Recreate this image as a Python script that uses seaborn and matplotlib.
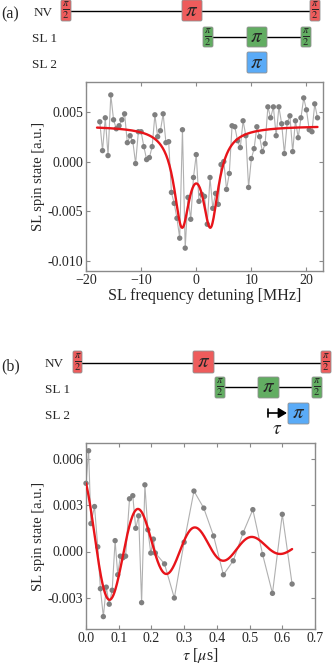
import matplotlib
matplotlib.use("Agg")
import matplotlib.pyplot as plt
from matplotlib.patches import FancyBboxPatch
import numpy as np
import pandas as pd
import seaborn as sns

# (a) SL frequency sweep, values in units of 1e-3
detuning = [-17.5, -17.0, -16.5, -16.0, -15.5, -15.0, -14.5, -14.0, -13.5, -13.0,
            -12.5, -12.0, -11.5, -11.0, -10.5, -10.0, -9.5, -9.0, -8.5, -8.0,
            -7.5, -7.0, -6.5, -6.0, -5.5, -5.0, -4.5, -4.0, -3.5, -3.0,
            -2.5, -2.0, -1.5, -1.0, -0.5, 0.0, 0.5, 1.0, 1.5, 2.0,
            2.5, 3.0, 3.5, 4.0, 4.5, 5.0, 5.5, 6.0, 6.5, 7.0,
            7.5, 8.0, 8.5, 9.0, 9.5, 10.0, 10.5, 11.0, 11.5, 12.0,
            12.5, 13.0, 13.5, 14.0, 14.5, 15.0, 15.5, 16.0, 16.5, 17.0,
            17.5, 18.0, 18.5, 19.0, 19.5, 20.0, 20.5, 21.0, 21.5, 22.0]
signal_a = [4.0, 1.1, 4.4, 0.6, 6.7, 4.2, 3.3, 3.6, 4.2, 4.8,
            1.9, 2.6, 2.0, -0.2, 3.0, 3.0, 1.5, 0.2, 0.4, 1.5,
            4.7, 2.5, 3.1, 4.8, 1.9, 2.0, -3.1, -4.2, -5.7, -7.7,
            3.2, -8.7, -3.6, -5.8, -1.6, 0.7, -4.0, -3.3, -3.5, -6.3,
            -1.6, -4.7, -3.2, -4.3, -0.3, 0.0, -2.8, -1.2, 3.6, 3.5,
            2.1, 1.4, 4.1, 2.6, -2.6, 0.3, 1.3, 3.5, 2.5, 1.0,
            1.8, 5.5, 4.4, 5.5, 2.6, 5.5, 3.8, 0.8, 3.9, 4.6,
            1.0, 4.1, 2.4, 4.4, 6.4, 5.2, 3.2, 3.0, 5.8, 4.4]
# double Lorentzian fit parameters (baseline, depth, split, width)
fit_a = dict(base=3.6, depth=9.3, split=2.6, width=1.75)

# (b) SL2 delay sweep, values in units of 1e-3
tau = [0.0, 0.008, 0.015, 0.026, 0.036, 0.044, 0.053, 0.062, 0.071, 0.080,
       0.089, 0.097, 0.105, 0.113, 0.121, 0.133, 0.143, 0.152, 0.161, 0.170,
       0.180, 0.189, 0.198, 0.206, 0.212, 0.24, 0.27, 0.30, 0.33, 0.36,
       0.39, 0.42, 0.45, 0.48, 0.51, 0.54, 0.57, 0.60, 0.63]
signal_b = [4.4, 6.5, 1.8, 2.9, 0.3, -2.4, -4.2, -2.3, -3.4, -2.5,
            0.7, -1.5, -0.3, -0.4, -0.3, 3.4, 3.6, 1.5, 2.3, -3.3,
            4.3, 1.4, -0.1, 0.8, -0.1, -0.8, -3.0, 0.6, 3.9, 2.8,
            1.0, -1.5, -0.6, 1.2, 2.7, -0.2, -2.7, 2.4, -2.1]
# damped cosine fit parameters
fit_b = dict(offset=0.3, amp=4.53, freq=5.75, decay=0.26, phase=0.44)

sns.set_style("ticks")
plt.rcParams["font.family"] = ["Liberation Serif", "DejaVu Serif"]
plt.rcParams["mathtext.fontset"] = "stix"
plt.rcParams["axes.unicode_minus"] = True

RED = "#ee5c5c"
GREEN = "#62ad62"
BLUE = "#5aabf7"
DOT = "#7f7f7f"
LINE = "#b0b0b0"
FIT = "#e8141a"
SPINE = "#8a8a8a"

fig = plt.figure(figsize=(3.32, 6.70), dpi=100)
ax_a = fig.add_axes([86 / 332, 1 - 271 / 670, 237 / 332, 189 / 670])
ax_b = fig.add_axes([86 / 332, 1 - 629 / 670, 229 / 332, 186 / 670])


def style_axes(ax):
    for s in ax.spines.values():
        s.set_color(SPINE)
        s.set_linewidth(1.0)
    ax.tick_params(direction="in", length=3, width=0.8, color=SPINE,
                   top=True, right=True, labelsize=10, pad=2)


# panel (a)
df_a = pd.DataFrame({"x": detuning, "y": np.array(signal_a) * 1e-3})
xf = np.linspace(-18, 22, 400)
lor = lambda d: 1 / (1 + (d / fit_a["width"]) ** 2)
yf = (fit_a["base"] - fit_a["depth"] * (lor(xf - fit_a["split"]) + lor(xf + fit_a["split"]))) * 1e-3
sns.lineplot(data=df_a, x="x", y="y", ax=ax_a, color=LINE, lw=0.8, sort=False)
sns.scatterplot(data=df_a, x="x", y="y", ax=ax_a, color=DOT, s=15, edgecolor="none", zorder=3)
sns.lineplot(x=xf, y=yf, ax=ax_a, color=FIT, lw=1.7, zorder=4)
ax_a.set_xlim(-20, 23)
ax_a.set_ylim(-0.011, 0.008)
ax_a.set_xticks([-20, -10, 0, 10, 20])
ax_a.set_yticks([-0.010, -0.005, 0.000, 0.005])
ax_a.yaxis.set_major_formatter(matplotlib.ticker.FormatStrFormatter("%.3f"))
ax_a.set_xlabel("SL frequency detuning [MHz]", fontsize=11.5, labelpad=1)
ax_a.set_ylabel("SL spin state [a.u.]", fontsize=10.5, labelpad=2)
style_axes(ax_a)

# panel (b)
df_b = pd.DataFrame({"x": tau, "y": np.array(signal_b) * 1e-3})
tf = np.linspace(0, 0.63, 400)
yb = (fit_b["offset"] + fit_b["amp"] * np.exp(-tf / fit_b["decay"])
      * np.cos(2 * np.pi * fit_b["freq"] * tf + fit_b["phase"])) * 1e-3
sns.lineplot(data=df_b, x="x", y="y", ax=ax_b, color=LINE, lw=0.8, sort=False)
sns.scatterplot(data=df_b, x="x", y="y", ax=ax_b, color=DOT, s=15, edgecolor="none",
                zorder=3, clip_on=False)
sns.lineplot(x=tf, y=yb, ax=ax_b, color=FIT, lw=1.7, zorder=4)
ax_b.set_xlim(0, 0.7)
ax_b.set_ylim(-0.005, 0.007)
ax_b.set_xticks(np.arange(0, 0.71, 0.1))
ax_b.set_yticks([-0.003, 0.000, 0.003, 0.006])
ax_b.xaxis.set_major_formatter(matplotlib.ticker.FormatStrFormatter("%.1f"))
ax_b.yaxis.set_major_formatter(matplotlib.ticker.FormatStrFormatter("%.3f"))
ax_b.set_xlabel(r"$\tau$ [$\mu$s]", fontsize=11.5, labelpad=1)
ax_b.set_ylabel("SL spin state [a.u.]", fontsize=10.5, labelpad=2)
style_axes(ax_b)

# pulse sequence schematics, drawn in pixel coordinates
ov = fig.add_axes([0, 0, 1, 1], zorder=5)
ov.set_xlim(0, 332)
ov.set_ylim(670, 0)
ov.axis("off")


def pulse(x0, x1, y0, y1, color, label, size):
    ov.add_patch(FancyBboxPatch((x0, y0), x1 - x0, y1 - y0,
                                boxstyle="round,pad=0,rounding_size=1.5",
                                fc=color, ec="#909090", lw=0.6, zorder=3))
    ov.text((x0 + x1) / 2, (y0 + y1) / 2 + 0.5, label, ha="center", va="center",
            fontsize=size, zorder=4)


HALF = r"$\frac{\pi}{2}$"
PI = r"$\pi$"

# (a)
ov.text(1, 14, "(a)", fontsize=11.5, va="center")
ov.text(34, 13, "NV", fontsize=9.5, va="center")
ov.text(32, 39, "SL 1", fontsize=9.5, va="center")
ov.text(32, 65, "SL 2", fontsize=9.5, va="center")
ov.plot([66, 315], [11, 11], color="black", lw=1.0, zorder=2)
pulse(61, 71, 0, 21, RED, HALF, 11)
pulse(182, 202, 0, 21, RED, PI, 15)
pulse(310, 320, 0, 21, RED, HALF, 11)
ov.plot([208, 306], [37, 37], color="black", lw=1.0, zorder=2)
pulse(203, 213, 27, 47, GREEN, HALF, 11)
pulse(247, 267, 27, 47, GREEN, PI, 15)
pulse(301, 311, 27, 47, GREEN, HALF, 11)
pulse(247, 267, 52, 73, BLUE, PI, 15)

# (b)
ov.text(1, 366, "(b)", fontsize=11.5, va="center")
ov.text(45, 364, "NV", fontsize=9.5, va="center")
ov.text(45, 390, "SL 1", fontsize=9.5, va="center")
ov.text(45, 416, "SL 2", fontsize=9.5, va="center")
ov.plot([78, 326], [363, 363], color="black", lw=1.0, zorder=2)
pulse(73, 82, 351, 373, RED, HALF, 11)
pulse(193, 214, 351, 373, RED, PI, 15)
pulse(321, 331, 351, 373, RED, HALF, 11)
ov.plot([220, 317], [387, 387], color="black", lw=1.0, zorder=2)
pulse(215, 225, 377, 398, GREEN, HALF, 11)
pulse(258, 279, 377, 398, GREEN, PI, 15)
pulse(312, 322, 377, 398, GREEN, HALF, 11)
pulse(288, 309, 403, 424, BLUE, PI, 15)
ov.plot([268, 268], [409, 417], color="black", lw=1.2)
ov.annotate("", xy=(287, 413), xytext=(268, 413),
            arrowprops=dict(arrowstyle="-|>,head_length=0.5,head_width=0.3",
                            color="black", lw=1.2, shrinkA=0, shrinkB=0))
ov.text(277, 429, r"$\tau$", fontsize=14, ha="center", va="center")

fig.savefig("out.png", dpi=100)
